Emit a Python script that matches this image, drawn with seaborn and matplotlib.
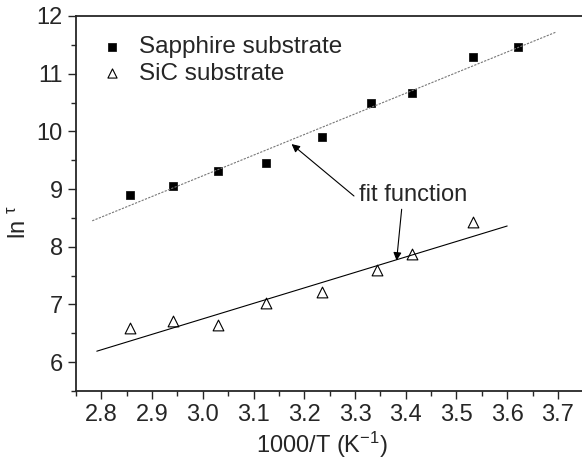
import numpy as np
import pandas as pd
import matplotlib
matplotlib.use("Agg")
import matplotlib.pyplot as plt
import seaborn as sns
from matplotlib.ticker import MultipleLocator

# data
sapphire_x = [2.857, 2.941, 3.029, 3.124, 3.234, 3.332, 3.412, 3.532, 3.621]
sapphire_y = [8.90, 9.05, 9.31, 9.45, 9.91, 10.50, 10.67, 11.29, 11.46]
sic_x = [2.857, 2.941, 3.029, 3.124, 3.235, 3.343, 3.413, 3.533]
sic_y = [6.60, 6.72, 6.64, 7.03, 7.21, 7.59, 7.87, 8.43]

# fit lines (end points)
sapphire_fit_x = [2.782, 3.696]
sapphire_fit_y = [8.45, 11.72]
sic_fit_x = [2.791, 3.600]
sic_fit_y = [6.19, 8.36]

x_ticks = [2.8, 2.9, 3.0, 3.1, 3.2, 3.3, 3.4, 3.5, 3.6, 3.7]
y_ticks = [6, 7, 8, 9, 10, 11, 12]

sns.set_style("ticks")
plt.rcParams["font.family"] = ["Liberation Sans", "DejaVu Sans"]
plt.rcParams["mathtext.fontset"] = "custom"
plt.rcParams["mathtext.rm"] = "Liberation Sans"
plt.rcParams["mathtext.it"] = "Liberation Sans"

df_s = pd.DataFrame({"x": sapphire_x, "y": sapphire_y})
df_c = pd.DataFrame({"x": sic_x, "y": sic_y})

fig = plt.figure(figsize=(5.82, 4.66), dpi=100)
ax = fig.add_axes([76 / 582, 75 / 466, 506 / 582, 375 / 466])

sns.lineplot(x=sapphire_fit_x, y=sapphire_fit_y, ax=ax, color="#777777",
             linewidth=0.8, linestyle=(0, (2, 1.2)), legend=False)
sns.lineplot(x=sic_fit_x, y=sic_fit_y, ax=ax, color="black",
             linewidth=0.8, legend=False)

sns.scatterplot(data=df_s, x="x", y="y", ax=ax, marker="s", s=38,
                color="black", edgecolor="black", label="Sapphire substrate")
sns.scatterplot(data=df_c, x="x", y="y", ax=ax, marker="^", s=60,
                facecolor="white", edgecolor="black", linewidth=0.8,
                label="SiC substrate")

ax.set_xlim(2.75, 3.7475)
ax.set_ylim(5.5, 12)
ax.set_xticks(x_ticks)
ax.set_xticklabels([f"{v:.1f}" for v in x_ticks])
ax.set_yticks(y_ticks)
ax.xaxis.set_minor_locator(MultipleLocator(0.05))
ax.yaxis.set_minor_locator(MultipleLocator(0.5))
ax.tick_params(which="major", direction="out", length=6, width=1, labelsize=17)
ax.tick_params(which="minor", direction="out", length=3.5, width=1)
for side in ["left", "bottom", "top"]:
    ax.spines[side].set_linewidth(1.3)
ax.spines["right"].set_visible(False)

ax.set_xlabel("1000/T (K$^{-1}$)", fontsize=17)
ax.xaxis.set_label_coords(0.486, -0.104)
ax.set_ylabel(r"ln $^{\tau}$", fontsize=17)
ax.yaxis.set_label_coords(-0.089, 0.45)

leg = ax.legend(loc="upper left", bbox_to_anchor=(0.048, 0.947), frameon=False,
                fontsize=17.5, handletextpad=0.6, borderaxespad=0,
                borderpad=0, labelspacing=0.2, handlelength=1.0,
                markerscale=0.85)

ax.annotate("", xy=(3.175, 9.78), xytext=(3.298, 8.88),
            arrowprops=dict(arrowstyle="-|>", color="black", lw=0.8,
                            mutation_scale=12, shrinkA=0, shrinkB=0))
ax.annotate("", xy=(3.382, 7.76), xytext=(3.392, 8.65),
            arrowprops=dict(arrowstyle="-|>", color="black", lw=0.8,
                            mutation_scale=12, shrinkA=0, shrinkB=0))
ax.text(3.308, 8.90, "fit function", fontsize=17, ha="left", va="center")

fig.savefig("out.png", dpi=100)
